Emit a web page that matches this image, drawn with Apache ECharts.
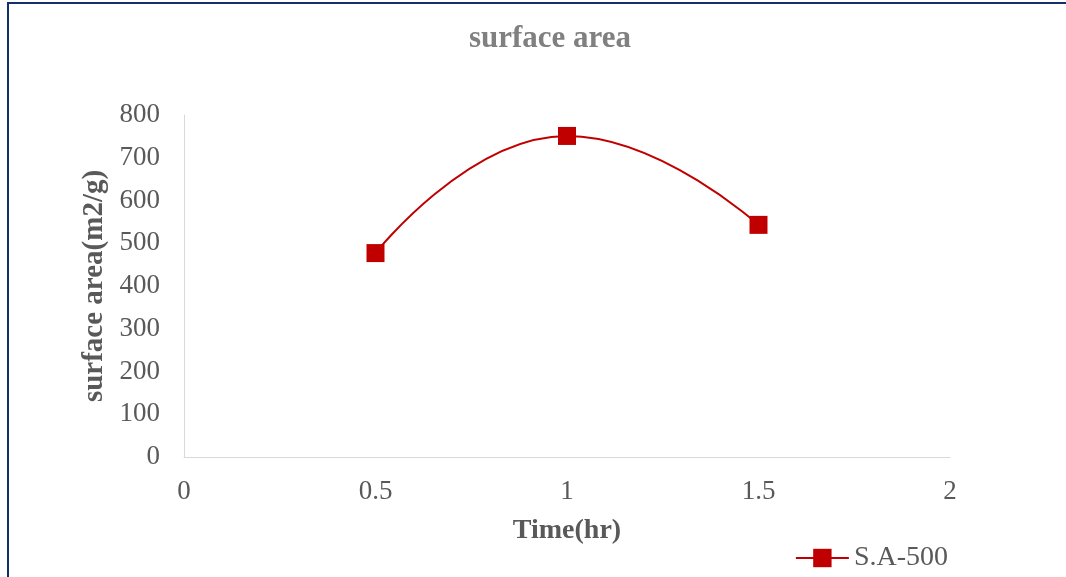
<!DOCTYPE html>
<html><head><meta charset="utf-8">
<script src="https://cdn.jsdelivr.net/npm/echarts@6/dist/echarts.min.js"></script>
<style>
html,body{margin:0;padding:0;background:#fff;overflow:hidden;}
#frame{position:absolute;left:7px;top:2px;width:1100px;height:640px;border-left:2px solid #13306b;border-top:2px solid #13306b;box-sizing:border-box;}
#c{position:absolute;left:0;top:0;width:1066px;height:577px;}
</style></head>
<body>
<div id="frame"></div>
<div id="c"></div>
<script>
const xValues = [0.5, 1, 1.5];
const surfaceArea = [477, 751, 543];
const seriesName = 'S.A-500';
const chartTitle = 'surface area';
const xAxisName = 'Time(hr)';
const yAxisName = 'surface area(m2/g)';

const chart = echarts.init(document.getElementById('c'), null, {renderer:'canvas'});
const serif = '"Liberation Serif","Times New Roman",serif';
chart.setOption({
  animation:false,
  backgroundColor:'transparent',
  title:{text:chartTitle,left:545,textAlign:'center',top:18,textStyle:{fontFamily:serif,fontSize:31,fontWeight:'bold',color:'#808080'}},
  legend:{data:[seriesName],right:113,bottom:0,itemWidth:53,itemHeight:23,
    textStyle:{fontFamily:serif,fontSize:28,color:'#595959'}},
  grid:{left:184,right:116,top:115,bottom:120,containLabel:false},
  xAxis:{type:'value',min:0,max:2,interval:0.5,name:xAxisName,nameLocation:'middle',nameGap:60,
    nameTextStyle:{fontFamily:serif,fontSize:28,fontWeight:'bold',color:'#595959'},
    axisLine:{show:true,lineStyle:{color:'#d9d9d9',width:1}},axisTick:{show:false},splitLine:{show:false},
    axisLabel:{fontFamily:serif,fontSize:27,color:'#595959',margin:21}},
  yAxis:{type:'value',min:0,max:800,interval:100,name:yAxisName,nameLocation:'middle',nameGap:73,
    nameTextStyle:{fontFamily:serif,fontSize:29,fontWeight:'bold',color:'#595959'},
    axisLine:{show:true,lineStyle:{color:'#d9d9d9',width:1}},axisTick:{show:false},splitLine:{show:false},
    axisLabel:{fontFamily:serif,fontSize:27,color:'#595959',margin:24}},
  series:[{name:seriesName,type:'line',smooth:0.5,data:xValues.map((x,i)=>[x,surfaceArea[i]]),
    symbol:'rect',symbolSize:18,
    lineStyle:{color:'#c00000',width:2},itemStyle:{color:'#c00000'}}]
});
</script>
</body></html>
